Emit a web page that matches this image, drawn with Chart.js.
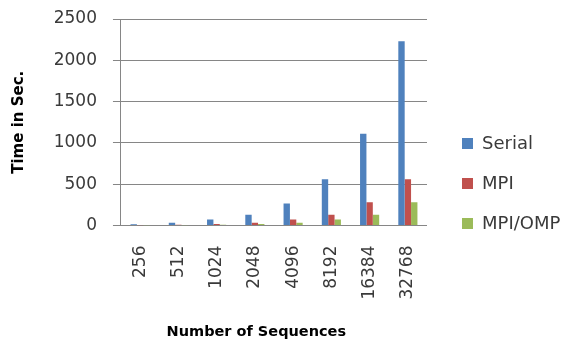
<!DOCTYPE html>
<html>
<head>
<meta charset="utf-8">
<script src="https://cdn.jsdelivr.net/npm/chart.js@4"></script>
<style>
    html, body {
        margin: 0;
        padding: 0;
        background: #FFFFFF;
    }

    #box {
        width: 574px;
        height: 341px;
    }
</style>
</head>
<body>
<div id="box">
    <canvas id="timeChart" width="574" height="341"></canvas>
</div>
<script>
const sequencias = [
    "256", "512", "1024", "2048",
    "4096", "8192", "16384", "32768"
];

const tempoSerial = [
    15, 33, 72, 130, 268, 560, 1110, 2230
];

const tempoMPI = [
    4, 9, 17, 33, 72, 130, 283, 560
];

const tempoMPIOMP = [
    2, 4, 9, 17, 33, 72, 130, 283
];

const ticksY = [0, 500, 1000, 1500, 2000, 2500];

const corGrade = "#868686";
const corTexto = "#3A3A3A";
const fonte = "'DejaVu Sans', sans-serif";

// legenda à direita, desenhada à mão para controlar o espaçamento
const legendaLateral = {
    id: "legendaLateral",

    afterDraw(chart) {
        const ctx = chart.ctx;
        const x = chart.chartArea.right + 35;
        const y0 = 144;
        const passo = 40;

        ctx.save();
        ctx.font = "18px " + fonte;
        ctx.textBaseline = "middle";
        ctx.textAlign = "left";

        chart.data.datasets.forEach((ds, i) => {
            const y = y0 + i * passo;

            ctx.fillStyle = ds.backgroundColor;
            ctx.fillRect(x, y - 6, 11, 11);

            ctx.fillStyle = corTexto;
            ctx.fillText(ds.label, x + 20, y);
        });

        ctx.restore();
    }
};

const timeChart =
    new Chart(
        document.getElementById("timeChart"),
        {
            type: "bar",

            data: {
                labels: sequencias,

                datasets: [
                    {
                        label: "Serial",
                        data: tempoSerial,
                        backgroundColor: "#4F81BD"
                    },
                    {
                        label: "MPI",
                        data: tempoMPI,
                        backgroundColor: "#C0504D"
                    },
                    {
                        label: "MPI/OMP",
                        data: tempoMPIOMP,
                        backgroundColor: "#9BBB59"
                    }
                ]
            },

            plugins: [legendaLateral],

            options: {

                responsive: false,
                animation: false,
                devicePixelRatio: 1,

                layout: {
                    padding: {
                        top: 19,
                        left: 1,
                        right: 147,
                        bottom: 0
                    }
                },

                datasets: {
                    bar: {
                        categoryPercentage: 0.5,
                        barPercentage: 1,
                        borderWidth: 0
                    }
                },

                plugins: {
                    tooltip: {
                        enabled: false
                    },

                    legend: {
                        display: false
                    }
                },

                scales: {

                    x: {
                        grid: {
                            display: false,
                            drawTicks: false
                        },

                        border: {
                            display: false
                        },

                        ticks: {
                            color: corTexto,
                            minRotation: 90,
                            maxRotation: 90,
                            padding: 20,
                            font: {
                                family: fonte,
                                size: 17
                            }
                        },

                        title: {
                            display: true,
                            // espaços no fim puxam o título um pouco para a esquerda
                            text: "Number of Sequences" + "\u00A0".repeat(7),
                            color: "#000000",
                            padding: {
                                top: 4,
                                bottom: 0
                            },
                            font: {
                                family: fonte,
                                size: 14.5,
                                weight: "bold"
                            }
                        }
                    },

                    y: {
                        min: 0,
                        max: 2500,

                        afterBuildTicks: (scale) => {
                            scale.ticks = ticksY.map(v => ({ value: v }));
                        },

                        // só meia altura do rótulo acima e abaixo da área
                        afterFit: (scale) => {
                            scale.paddingTop = 10;
                            scale.paddingBottom = 10;
                        },

                        grid: {
                            color: corGrade,
                            lineWidth: 1,
                            tickLength: 8,
                            tickColor: corGrade
                        },

                        border: {
                            display: true,
                            color: corGrade,
                            width: 1
                        },

                        ticks: {
                            color: corTexto,
                            padding: 16,
                            callback: (valor) => String(valor),
                            font: {
                                family: fonte,
                                size: 17
                            }
                        },

                        title: {
                            display: true,
                            text: "Time in Sec.",
                            color: "#000000",
                            padding: {
                                top: 9,
                                bottom: 9.7
                            },
                            font: {
                                family: fonte,
                                size: 15,
                                weight: "bold"
                            }
                        }
                    }
                }
            }
        }
    );
</script>
</body>
</html>
